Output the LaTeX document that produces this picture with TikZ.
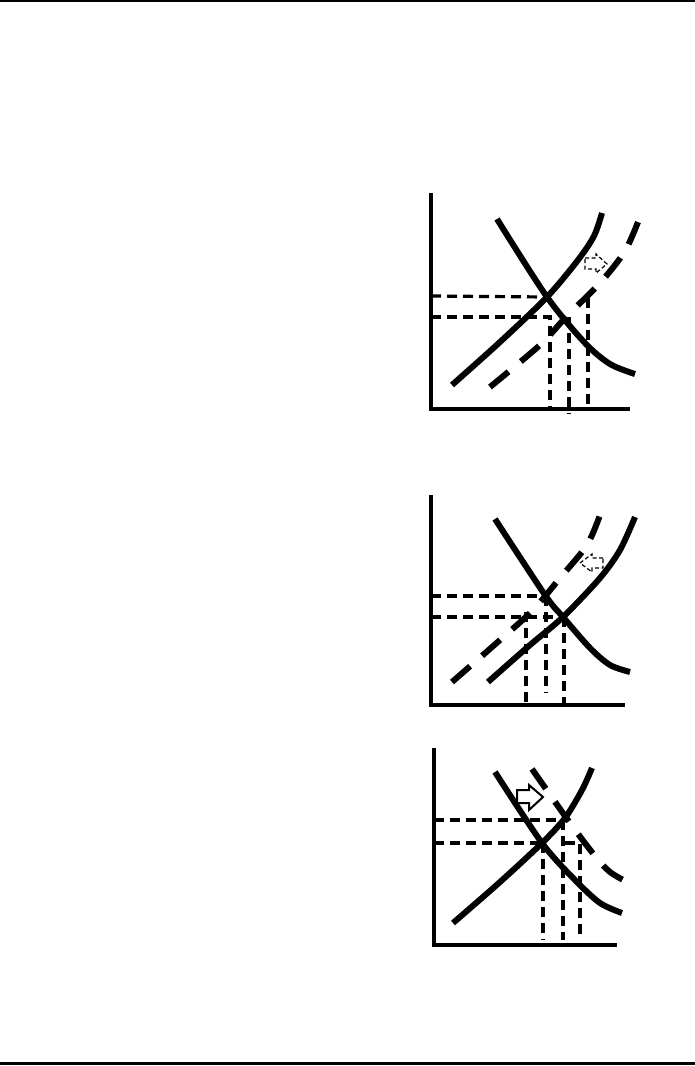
\documentclass[tikz,border=0pt]{standalone}
\begin{document}
\begin{tikzpicture}[x=1pt,y=-1pt,
  axis/.style={line width=4pt},
  curve/.style={line width=6pt},
  dcurve/.style={line width=6pt,dash pattern=on 24pt off 16pt},
  guide/.style={line width=3.2pt,dash pattern=on 10pt off 6pt},
  smallarrow/.style={line width=1.2pt,dash pattern=on 4pt off 2.5pt},
  blockarrow/.style={line width=2pt,fill=white}]
\useasboundingbox (0,0) rectangle (695,1066);
\fill[white] (0,0) rectangle (695,1066);
% page rules
\draw[line width=2pt] (0,1) -- (695,1);
\draw[line width=3pt] (0,1063) -- (695,1063);

% ---------- panel 1 ----------
\coordinate (e1) at (547,297);
\draw[guide] (431,296) -- (e1);
\draw[guide] (431,317) -- (550,317) -- (550,409);
\draw[guide] (569,317) -- (569,414);
\draw[guide] (588,298) -- (588,409);
\draw[curve] plot[smooth] coordinates {(497,219) (547,297) (585,343) (610,364) (635,374)};
\draw[curve] plot[smooth] coordinates {(452,385) (500,342) (547,297) (578,260) (594,236) (602,213)};
\draw[dcurve] plot[smooth] coordinates {(490,387) (540,345) (566,317) (600,283) (625,251) (640,217)};
\draw[smallarrow] (585,258) -- (596,258) -- (596,254) -- (607,264) -- (596,273) -- (596,269) -- (585,269) -- cycle;
\draw[axis] (431,193) -- (431,409) -- (630,409);

% ---------- panel 2 ----------
\draw[guide] (431,596) -- (545,596);
\draw[guide] (431,617) -- (563,617);
\draw[guide] (526,612) -- (526,705);
\draw[guide] (546,596) -- (546,693);
\draw[guide] (564,617) -- (564,710);
\draw[curve] plot[smooth] coordinates {(495,519) (545,595) (563,617) (590,648) (610,665) (630,672)};
\draw[curve] plot[smooth] coordinates {(488,682) (530,645) (563,617) (600,578) (620,550) (635,517)};
\draw[dcurve] plot[smooth] coordinates {(452,682) (500,640) (533,610) (560,578) (587,545) (600,515)};
\draw[smallarrow] (603,558) -- (592,558) -- (592,554) -- (580,563) -- (592,572) -- (592,568) -- (603,568) -- cycle;
\draw[axis] (431,495) -- (431,705) -- (625,705);

% ---------- panel 3 ----------
\draw[guide] (434,820) -- (563,820);
\draw[guide] (434,843) -- (542,843);
\draw[guide] (565,843) -- (580,843) -- (580,940);
\draw[guide] (543,843) -- (543,940);
\draw[guide] (563,820) -- (563,940);
\draw[curve] plot[smooth] coordinates {(495,772) (542,843) (575,880) (600,903) (622,913)};
\draw[curve] plot[smooth] coordinates {(453,923) (500,882) (542,843) (565,818) (582,790) (592,768)};
\draw[dcurve] plot[smooth] coordinates {(532,769) (570,823) (595,856) (610,872) (627,882)};
\draw[blockarrow] (517,790) -- (529,790) -- (529,785) -- (543,797) -- (529,810) -- (529,803) -- (517,803) -- cycle;
\draw[axis] (434,748) -- (434,945) -- (617,945);
\end{tikzpicture}
\end{document}
